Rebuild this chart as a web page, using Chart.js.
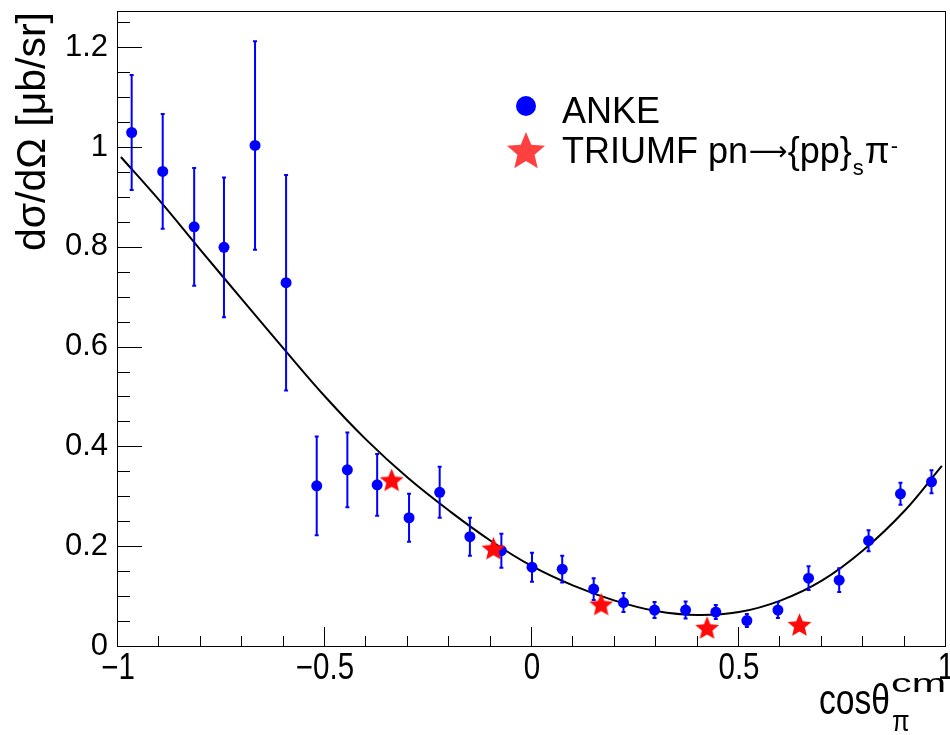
<!DOCTYPE html>
<html>
<head>
<meta charset="utf-8">
<script src="https://cdn.jsdelivr.net/npm/chart.js@4"></script>
<style>
  html, body { margin: 0; padding: 0; background: #fff; }
  #wrap { width: 950px; height: 735px; }
</style>
</head>
<body>
<div id="wrap"><canvas id="chart" width="950" height="735"></canvas></div>
<script>
// ANKE points (cos theta, dsigma/dOmega, error)
const ankeX = [-0.967, -0.892, -0.816, -0.744, -0.669, -0.594, -0.520, -0.446, -0.374, -0.297, -0.223, -0.150, -0.074, 0.0,
  0.073, 0.149, 0.221, 0.296, 0.371, 0.444, 0.519, 0.594, 0.668, 0.742, 0.813, 0.890, 0.965];
const ankeY = [1.029, 0.951, 0.840, 0.799, 1.003, 0.728, 0.321, 0.353, 0.323, 0.257, 0.308, 0.219, 0.191, 0.158,
  0.154, 0.114, 0.087, 0.072, 0.072, 0.068, 0.051, 0.072, 0.136, 0.132, 0.211, 0.305, 0.329];
const ankeErr = [0.115, 0.115, 0.118, 0.140, 0.209, 0.216, 0.099, 0.075, 0.062, 0.048, 0.051, 0.038, 0.034, 0.029,
  0.027, 0.022, 0.019, 0.016, 0.017, 0.014, 0.013, 0.016, 0.024, 0.024, 0.021, 0.022, 0.023];

// TRIUMF points
const triumfX = [-0.339, -0.093, 0.167, 0.423, 0.646];
const triumfY = [0.333, 0.196, 0.084, 0.037, 0.043];

// fit curve
const fitX = [-0.993, -0.9, -0.8, -0.7, -0.6, -0.5, -0.4, -0.3, -0.2, -0.1, 0,
  0.1, 0.2, 0.3, 0.4, 0.5, 0.6, 0.7, 0.8, 0.9, 0.99];
const fitY = [0.980, 0.893, 0.793, 0.694, 0.596, 0.500, 0.413, 0.337, 0.271, 0.211, 0.160,
  0.121, 0.091, 0.070, 0.062, 0.068, 0.091, 0.131, 0.192, 0.271, 0.361];

const xTicks = [-1, -0.5, 0, 0.5, 1];
const xTickLabels = ['\u22121', '\u22120.5', '0', '0.5', '1'];
const yTicks = [0, 0.2, 0.4, 0.6, 0.8, 1, 1.2];
const yTickLabels = ['0', '0.2', '0.4', '0.6', '0.8', '1', '1.2'];

const BLUE = '#0000ff';
const RED = '#ff0a0a';
const FONT = '"Liberation Sans", Arial, Helvetica, sans-serif';

function starPath(ctx, cx, cy, r) {
  const inner = r * 0.45;
  ctx.beginPath();
  for (let i = 0; i < 10; i++) {
    const rr = i % 2 === 0 ? r : inner;
    const a = -Math.PI / 2 + i * Math.PI / 5;
    const px = cx + rr * Math.cos(a), py = cy + rr * Math.sin(a);
    if (i === 0) ctx.moveTo(px, py); else ctx.lineTo(px, py);
  }
  ctx.closePath();
}

function makeStar(r, color) {
  const c = document.createElement('canvas');
  c.width = c.height = Math.ceil(2 * r + 2);
  const g = c.getContext('2d');
  g.fillStyle = color;
  starPath(g, c.width / 2, c.height / 2 + r * 0.1, r);
  g.fill();
  return c;
}

function scaledText(ctx, text, x, y, font, sx, align) {
  ctx.save();
  ctx.font = font;
  const w = ctx.measureText(text).width * sx;
  const x0 = align === 'center' ? x - w / 2 : align === 'right' ? x - w : x;
  ctx.translate(x0, y);
  ctx.scale(sx, 1);
  ctx.textAlign = 'left';
  ctx.textBaseline = 'alphabetic';
  ctx.fillText(text, 0, 0);
  ctx.restore();
  return w;
}

const decor = {
  id: 'decor',
  beforeDatasetDraw(chart, args) {
    if (args.index !== 0) return;
    const ctx = chart.ctx, xs = chart.scales.x, ys = chart.scales.y;
    ctx.save();
    ctx.strokeStyle = BLUE;
    ctx.lineWidth = 2;
    ankeX.forEach((x, i) => {
      const px = xs.getPixelForValue(x);
      const top = ys.getPixelForValue(ankeY[i] + ankeErr[i]);
      const bot = ys.getPixelForValue(ankeY[i] - ankeErr[i]);
      ctx.beginPath();
      ctx.moveTo(px, top); ctx.lineTo(px, bot);
      ctx.moveTo(px - 2, top); ctx.lineTo(px + 2, top);
      ctx.moveTo(px - 2, bot); ctx.lineTo(px + 2, bot);
      ctx.stroke();
    });
    ctx.restore();
  },
  afterDraw(chart) {
    const ctx = chart.ctx, xs = chart.scales.x, ys = chart.scales.y;
    const a = chart.chartArea;
    ctx.save();
    // frame
    ctx.strokeStyle = '#000';
    ctx.lineWidth = 1;
    ctx.strokeRect(a.left - 0.5, a.top + 0.5, a.right - a.left, a.bottom - a.top);
    // y ticks (inward)
    ctx.beginPath();
    for (let v = 0; v <= 1.27; v += 0.05) {
      const py = Math.round(ys.getPixelForValue(v)) + 0.5;
      const major = yTicks.some(t => Math.abs(t - v) < 1e-6);
      ctx.moveTo(a.left, py);
      ctx.lineTo(a.left + (major ? 24 : 12), py);
    }
    // x ticks (inward)
    for (let k = -10; k <= 10; k++) {
      const v = k / 10;
      const px = Math.round(xs.getPixelForValue(v)) - 0.5;
      const major = xTicks.some(t => Math.abs(t - v) < 1e-6);
      ctx.moveTo(px, a.bottom);
      ctx.lineTo(px, a.bottom - (major ? 19 : 10));
    }
    ctx.stroke();

    ctx.fillStyle = '#000';
    // x tick labels
    xTicks.forEach((v, i) => {
      scaledText(ctx, xTickLabels[i], xs.getPixelForValue(v), 679, '36px ' + FONT, 0.82, 'center');
    });

    // x title: cos theta with sub/superscript
    ctx.font = '25px ' + FONT;
    const wcm = ctx.measureText('cm').width * 1.65;
    const x0 = 946 - wcm;
    scaledText(ctx, 'cm', x0, 692, '25px ' + FONT, 1.65, 'left');
    scaledText(ctx, '\u03c0', x0 + 1, 731, '30px ' + FONT, 0.85, 'left');
    scaledText(ctx, 'cos\u03b8', x0 - 1, 714, '42px ' + FONT, 0.8, 'right');

    // y title
    ctx.save();
    ctx.translate(45, 12);
    ctx.rotate(-Math.PI / 2);
    ctx.font = '41px ' + FONT;
    ctx.textAlign = 'right';
    ctx.textBaseline = 'alphabetic';
    ctx.fillText('d\u03c3/d\u03a9 [\u03bcb/sr]', 0, 0);
    ctx.restore();

    // legend
    ctx.fillStyle = BLUE;
    ctx.beginPath();
    ctx.arc(526, 106, 10, 0, Math.PI * 2);
    ctx.fill();
    ctx.fillStyle = '#ff4040';
    starPath(ctx, 526, 152, 20);
    ctx.fill();

    ctx.fillStyle = '#000';
    ctx.font = '36px ' + FONT;
    ctx.textAlign = 'left';
    ctx.textBaseline = 'alphabetic';
    ctx.fillText('ANKE', 562, 123);
    let x = 562;
    ctx.fillText('TRIUMF pn', x, 163);
    x += ctx.measureText('TRIUMF pn').width + 1;
    ctx.font = '27px "DejaVu Sans", ' + FONT;
    ctx.fillText('\u27f6', x, 160);
    x += ctx.measureText('\u27f6').width;
    ctx.font = '36px ' + FONT;
    ctx.fillText('{pp}', x, 163);
    x += ctx.measureText('{pp}').width + 1;
    ctx.font = '22px ' + FONT;
    ctx.fillText('s', x, 175);
    x += ctx.measureText('s').width + 1;
    ctx.font = '36px ' + FONT;
    ctx.fillText('\u03c0', x, 163);
    x += ctx.measureText('\u03c0').width + 1;
    ctx.font = '22px ' + FONT;
    ctx.fillText('-', x, 153);
    ctx.restore();
  }
};

new Chart(document.getElementById('chart'), {
  type: 'scatter',
  data: {
    datasets: [
      {
        label: 'ANKE',
        data: ankeX.map((x, i) => ({ x: x, y: ankeY[i] })),
        backgroundColor: BLUE,
        borderColor: BLUE,
        borderWidth: 0,
        pointRadius: 5.5,
        order: 1
      },
      {
        label: 'TRIUMF',
        data: triumfX.map((x, i) => ({ x: x, y: triumfY[i] })),
        pointStyle: makeStar(12.5, RED),
        pointRadius: 12,
        order: 0
      },
      {
        type: 'line',
        label: 'fit',
        data: fitX.map((x, i) => ({ x: x, y: fitY[i] })),
        borderColor: '#000',
        borderWidth: 2,
        pointRadius: 0,
        fill: false,
        tension: 0.4,
        order: 2
      }
    ]
  },
  options: {
    responsive: false,
    animation: false,
    events: [],
    layout: { autoPadding: false, padding: { top: 11, right: 4, left: 0, bottom: 0 } },
    plugins: { legend: { display: false }, tooltip: { enabled: false } },
    scales: {
      x: {
        type: 'linear',
        min: -1,
        max: 1,
        grid: { display: false },
        border: { display: false },
        ticks: { display: false },
        afterFit(scale) { scale.height = 89; scale.paddingLeft = 0; scale.paddingRight = 0; }
      },
      y: {
        type: 'linear',
        min: 0,
        max: 1.2725,
        grid: { display: false, drawTicks: false },
        border: { display: false },
        afterBuildTicks(scale) { scale.ticks = yTicks.map(v => ({ value: v })); },
        ticks: {
          padding: 10,
          color: '#000',
          font: { family: FONT, size: 31, lineHeight: 0.6 },
          callback: (v) => yTickLabels[yTicks.indexOf(v)]
        },
        afterFit(scale) { scale.width = 118; scale.paddingTop = 0; scale.paddingBottom = 0; }
      }
    }
  },
  plugins: [decor]
});
</script>
</body>
</html>
